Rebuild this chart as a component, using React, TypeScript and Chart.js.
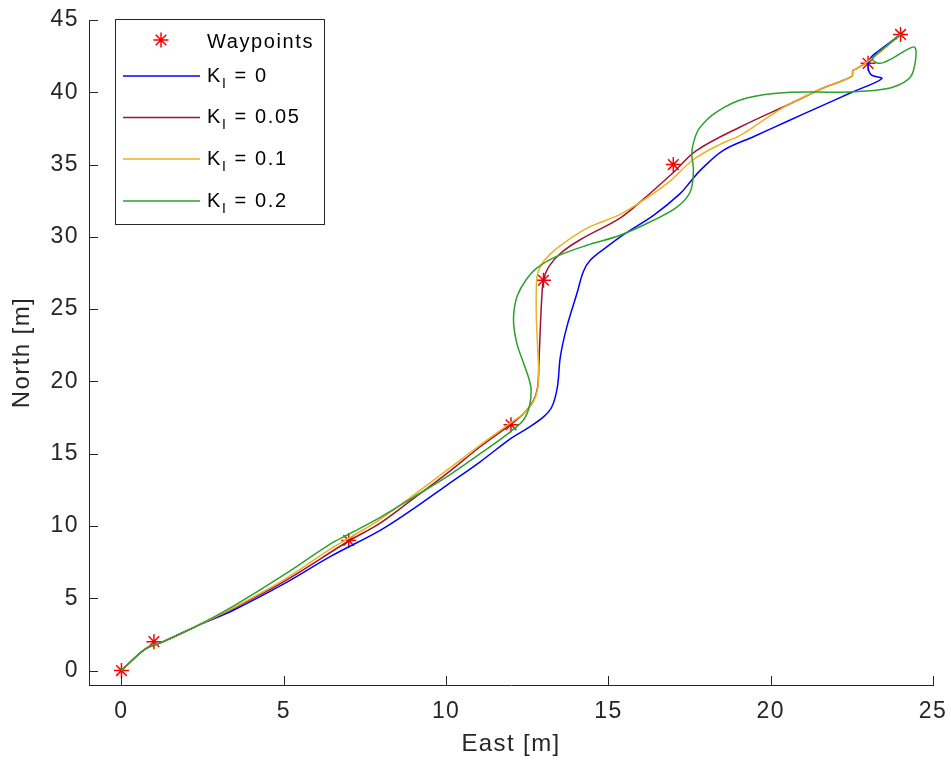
import React, { useEffect, useRef } from 'react';
import { Chart, registerables } from 'chart.js';

Chart.register(...registerables);

// Waypoints the vehicle has to visit, in metres.
const WAYPOINTS_EAST = [0, 1, 7, 12, 13, 17, 23, 24];
const WAYPOINTS_NORTH = [0, 2, 9, 17, 27, 35, 42, 44];

// Integral gain of each run, as shown in the legend.
const GAINS = ['0', '0.05', '0.1', '0.2'];

// Simulated tracks [east, north] for each integral gain.
const TRACK_K0: [number, number][] = [
  [0, 0], [0.74, 1.5], [1.29, 2.0], [2.33, 3.09], [3.46, 4.19], [5.0, 5.99], [6.43, 7.88],
  [7.97, 9.7], [9.0, 11.2], [10.03, 12.83], [11.05, 14.44], [12.0, 16.06], [12.5, 16.75],
  [13.0, 17.55], [13.26, 18.25], [13.43, 19.63], [13.52, 21.7], [13.72, 23.77], [14.03, 26.08],
  [14.23, 27.6], [14.44, 28.38], [14.95, 29.3], [15.5, 30.2], [16.4, 31.5], [17.21, 32.99],
  [17.52, 33.8], [17.83, 34.6], [18.54, 35.98], [19.5, 36.96], [20.5, 37.98], [21.5, 38.99],
  [22.5, 40.0], [23.42, 40.94], [23.1, 41.2], [23.0, 41.74], [23.06, 42.32], [23.21, 42.67],
  [24, 44],
];

const TRACK_K005: [number, number][] = [
  [0, 0], [0.74, 1.5], [1.29, 2.0], [2.33, 3.09], [3.46, 4.3], [5.0, 6.15], [7.0, 8.96],
  [7.97, 10.2], [9.0, 11.91], [10.03, 13.64], [11.05, 15.48], [12.0, 17.05], [12.4, 17.8],
  [12.7, 18.7], [12.82, 19.6], [12.86, 21.24], [12.9, 23.55], [12.95, 25.85], [13.0, 27.0],
  [13.16, 27.92], [13.52, 28.85], [14.13, 29.8], [15.36, 31.3], [16.0, 32.45], [17.0, 34.45],
  [17.7, 35.95], [19.06, 37.6], [20.6, 39.21], [21.62, 40.3], [22.5, 41.1], [22.53, 41.5],
  [22.62, 41.6], [23.04, 42.2], [24, 44],
];

const TRACK_K01: [number, number][] = [
  [0, 0], [0.74, 1.5], [1.29, 2.0], [2.33, 3.09], [3.46, 4.35], [5.0, 6.27], [6.43, 8.4],
  [7.0, 9.15], [7.97, 10.46], [9.0, 12.14], [10.03, 13.87], [11.05, 15.6], [12.0, 17.15],
  [12.39, 17.79], [12.69, 18.6], [12.82, 19.5], [12.85, 20.78], [12.82, 22.39], [12.78, 24.46],
  [12.78, 26.31], [12.82, 27.46], [13.0, 28.3], [13.41, 29.2], [14.34, 30.6], [15.36, 31.55],
  [16.19, 32.7], [16.9, 33.85], [17.62, 35.35], [18.44, 36.4], [19.06, 37.02], [20.0, 38.4],
  [20.6, 39.21], [21.62, 40.3], [22.5, 41.1], [22.53, 41.5], [22.62, 41.6], [23.04, 42.2],
  [24, 44],
];

const TRACK_K02: [number, number][] = [
  [0, 0], [0.74, 1.5], [1.29, 2.0], [2.33, 3.09], [3.46, 4.47], [5.0, 6.61], [6.43, 8.75],
  [7.0, 9.43], [7.97, 10.6], [9.0, 12.0], [10.03, 13.41], [11.05, 15.0], [12.0, 16.55],
  [12.39, 17.35], [12.57, 18.3], [12.62, 19.4], [12.55, 20.2], [12.39, 21.24], [12.18, 22.63],
  [12.08, 24.0], [12.1, 25.0], [12.2, 25.96], [12.44, 26.95], [12.8, 27.85], [13.41, 28.65],
  [14.34, 29.42], [15.36, 30.11], [16.39, 31.15], [17.11, 32.05], [17.52, 33.1], [17.62, 34.6],
  [17.57, 35.7], [17.62, 36.5], [17.8, 37.5], [18.34, 38.65], [19.26, 39.6], [20.6, 40.0],
  [22.14, 40.01], [23.16, 40.13], [23.78, 40.36], [24.3, 41.04], [24.46, 42.2], [24.44, 43.12],
  [24.2, 42.95], [23.75, 42.35], [23.35, 42.0], [23.13, 42.3], [23.35, 42.8], [24, 44],
];

const X_TICKS = [0, 5, 10, 15, 20, 25];
const Y_TICKS = [0, 5, 10, 15, 20, 25, 30, 35, 40, 45];

const FONT = "'Liberation Sans', Arial, Helvetica, sans-serif";
const AXIS_COLOR = '#262626';
const TRACK_COLORS = ['#0000ff', '#a2142f', '#edb120', '#2ca02c'];
const MARKER_COLOR = '#ff0000';
const TEXT_SPACING = '1.4px';
const TICK_LEN = 9;

const toPoints = (track: [number, number][]) => track.map(([x, y]) => ({ x, y }));

function drawAsterisk(ctx: CanvasRenderingContext2D, x: number, y: number, r: number) {
  ctx.beginPath();
  for (let k = 0; k < 4; k++) {
    const a = (k * Math.PI) / 4;
    const dx = Math.cos(a) * r;
    const dy = Math.sin(a) * r;
    ctx.moveTo(x - dx, y - dy);
    ctx.lineTo(x + dx, y + dy);
  }
  ctx.stroke();
}

// MATLAB-like ticks pointing into the axes.
const inwardTicks = {
  id: 'inwardTicks',
  beforeDraw(chart: any) {
    chart.ctx.letterSpacing = TEXT_SPACING;
  },
  afterDraw(chart: any) {
    const { ctx, chartArea, scales } = chart;
    ctx.save();
    ctx.strokeStyle = AXIS_COLOR;
    ctx.lineWidth = 1;
    ctx.beginPath();
    for (const t of scales.x.ticks) {
      const px = Math.round(scales.x.getPixelForValue(t.value)) + 0.5;
      ctx.moveTo(px, chartArea.bottom);
      ctx.lineTo(px, chartArea.bottom - TICK_LEN);
    }
    for (const t of scales.y.ticks) {
      const py = Math.round(scales.y.getPixelForValue(t.value)) + 0.5;
      ctx.moveTo(chartArea.left, py);
      ctx.lineTo(chartArea.left + TICK_LEN, py);
    }
    ctx.stroke();
    ctx.restore();
  },
};

// Boxed legend with subscripted gain names.
const boxedLegend = {
  id: 'boxedLegend',
  afterDraw(chart: any) {
    const ctx: CanvasRenderingContext2D = chart.ctx;
    const box = { x: 115.5, y: 19.5, w: 209, h: 205 };
    ctx.save();
    (ctx as any).letterSpacing = '1.6px';
    ctx.fillStyle = '#ffffff';
    ctx.fillRect(box.x, box.y, box.w, box.h);
    ctx.strokeStyle = AXIS_COLOR;
    ctx.lineWidth = 1;
    ctx.strokeRect(box.x, box.y, box.w, box.h);

    const textX = 207;
    const sampleX0 = 123;
    const sampleX1 = 200;

    // Waypoints entry
    ctx.strokeStyle = MARKER_COLOR;
    ctx.lineWidth = 1.5;
    drawAsterisk(ctx, 161, 40, 7.5);
    ctx.fillStyle = '#000000';
    ctx.font = `20px ${FONT}`;
    ctx.textBaseline = 'alphabetic';
    ctx.textAlign = 'left';
    ctx.fillText('Waypoints', textX, 47.5);

    const rows = [76, 117.5, 159, 201];
    GAINS.forEach((g, i) => {
      const y = rows[i];
      ctx.strokeStyle = TRACK_COLORS[i];
      ctx.lineWidth = 1.5;
      ctx.beginPath();
      ctx.moveTo(sampleX0, y);
      ctx.lineTo(sampleX1, y);
      ctx.stroke();

      const base = y + 5.5;
      ctx.fillStyle = '#000000';
      ctx.font = `20px ${FONT}`;
      ctx.fillText('K', textX, base);
      let cx = textX + ctx.measureText('K').width;
      ctx.font = `14px ${FONT}`;
      ctx.fillText('I', cx, base + 6);
      cx += ctx.measureText('I').width;
      ctx.font = `20px ${FONT}`;
      ctx.fillText(` = ${g}`, cx, base);
    });
    ctx.restore();
  },
};

export default function App() {
  const canvasRef = useRef<HTMLCanvasElement | null>(null);

  useEffect(() => {
    if (!canvasRef.current) return;
    const waypoints = WAYPOINTS_EAST.map((x, i) => ({ x, y: WAYPOINTS_NORTH[i] }));
    const tracks = [TRACK_K0, TRACK_K005, TRACK_K01, TRACK_K02];

    const chart = new Chart(canvasRef.current, {
      type: 'scatter',
      data: {
        datasets: [
          {
            label: 'Waypoints',
            data: waypoints,
            showLine: false,
            pointStyle: 'star',
            pointRadius: 7.5,
            pointBorderWidth: 1.5,
            borderColor: MARKER_COLOR,
            backgroundColor: MARKER_COLOR,
            order: 5,
          },
          ...tracks.map((t, i) => ({
            label: `K_I = ${GAINS[i]}`,
            data: toPoints(t),
            showLine: true,
            borderColor: TRACK_COLORS[i],
            backgroundColor: TRACK_COLORS[i],
            borderWidth: 1.5,
            pointRadius: 0,
            tension: 0.35,
            order: 4 - i,
          })),
        ],
      },
      options: {
        responsive: false,
        animation: false,
        devicePixelRatio: 1,
        layout: { padding: { left: 0, right: 18, top: 20, bottom: 0 } },
        plugins: {
          legend: { display: false },
          tooltip: { enabled: false },
        },
        scales: {
          x: {
            type: 'linear',
            min: -1,
            max: 25,
            grid: { display: false, drawTicks: false },
            border: { display: true, color: AXIS_COLOR, width: 1 },
            ticks: { font: { family: FONT, size: 23 }, color: AXIS_COLOR, padding: 13, maxRotation: 0 },
            title: {
              display: true,
              text: 'East [m]',
              color: AXIS_COLOR,
              font: { family: FONT, size: 24 },
              padding: { top: 0, bottom: 10 },
            },
            afterBuildTicks: (scale: any) => {
              scale.ticks = X_TICKS.map((v) => ({ value: v }));
            },
            afterFit: (scale: any) => {
              scale.height = 84;
              scale.paddingLeft = 0;
              scale.paddingRight = 0;
            },
          },
          y: {
            type: 'linear',
            min: -1,
            max: 45,
            grid: { display: false, drawTicks: false },
            border: { display: true, color: AXIS_COLOR, width: 1 },
            ticks: { font: { family: FONT, size: 23 }, color: AXIS_COLOR, padding: 10 },
            title: {
              display: true,
              text: 'North [m]',
              color: AXIS_COLOR,
              font: { family: FONT, size: 24 },
              padding: { top: 8, bottom: 0 },
            },
            afterBuildTicks: (scale: any) => {
              scale.ticks = Y_TICKS.map((v) => ({ value: v }));
            },
            afterFit: (scale: any) => {
              scale.width = 89;
              scale.paddingTop = 0;
              scale.paddingBottom = 0;
            },
          },
        },
      },
      plugins: [inwardTicks, boxedLegend],
    } as any);

    return () => chart.destroy();
  }, []);

  return (
    <div style={{ position: 'absolute', left: 0, top: 0, width: 951, height: 769, background: '#ffffff' }}>
      <canvas ref={canvasRef} width={951} height={769} />
    </div>
  );
}
